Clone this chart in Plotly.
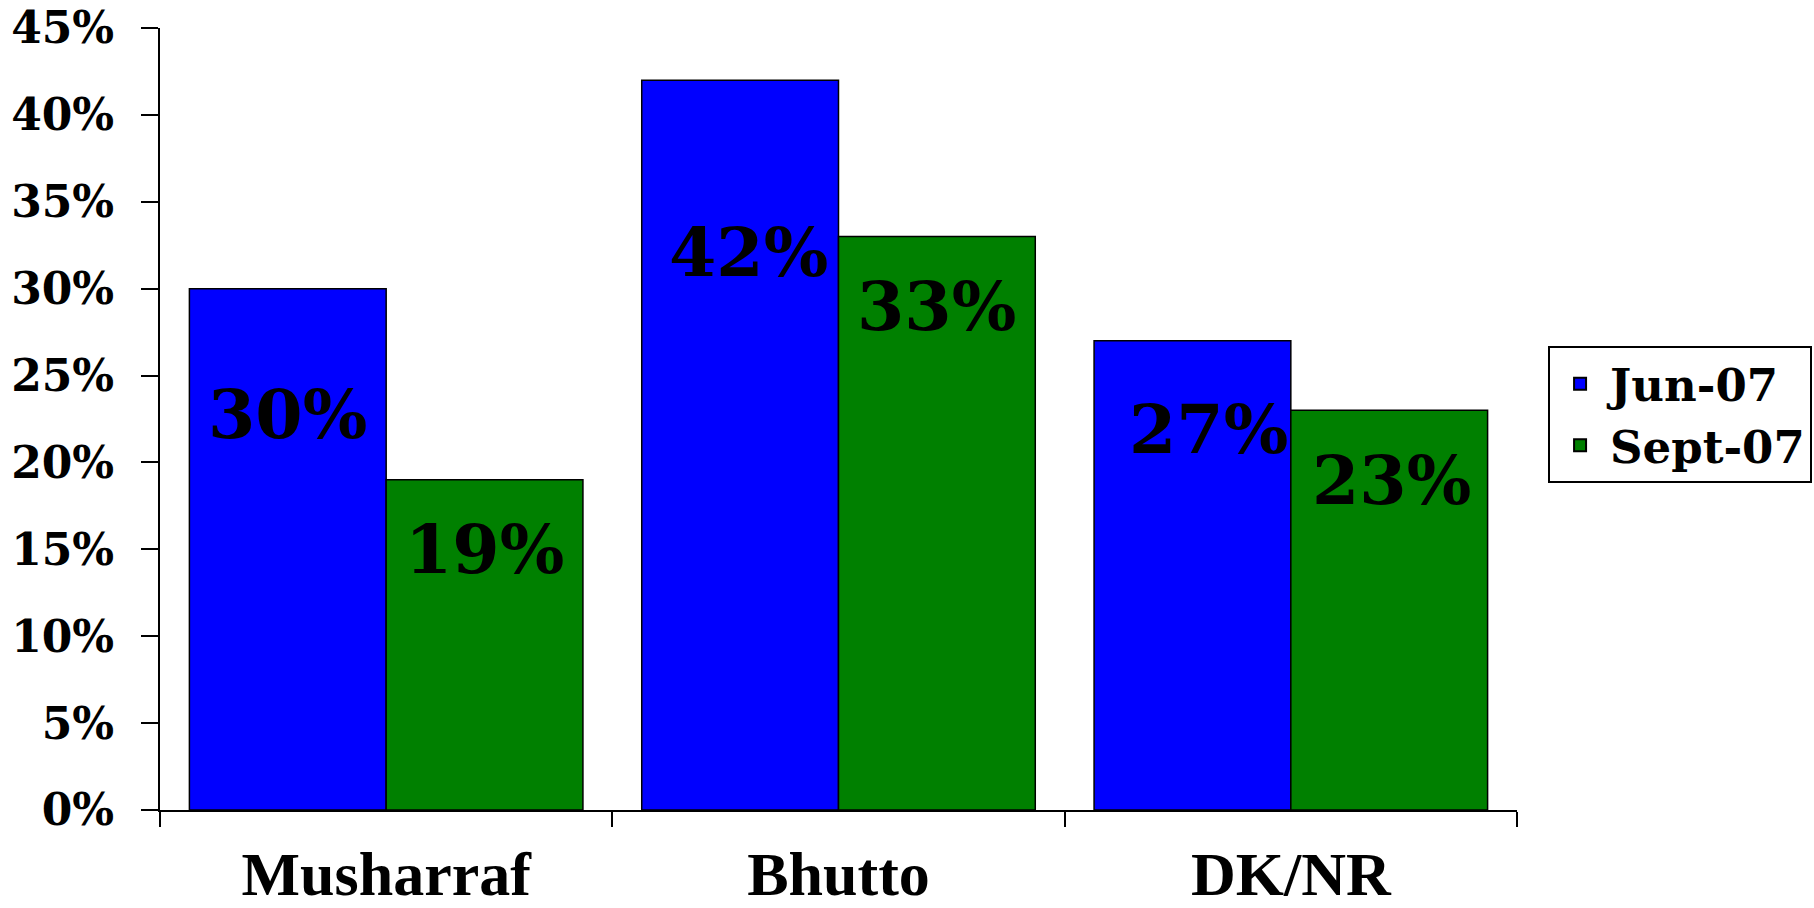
import plotly.graph_objects as go

categories = ["Musharraf", "Bhutto", "DK/NR"]
series_names = ["Jun-07", "Sept-07"]
jun_values = [30, 42, 27]
sept_values = [19, 33, 23]
# vertical position (in % units) of the value labels inside the bars
jun_label_pos = [22.8, 32.1, 21.9]
sept_label_pos = [15.0, 29.0, 19.0]
# small horizontal nudges (px) of the value labels
jun_label_nudge = [0, 8, 16]
sept_label_nudge = [0, 0, 2]
y_ticks = [0, 5, 10, 15, 20, 25, 30, 35, 40, 45]

colors = ["#0000FF", "#008000"]
serif_label = "DejaVu Serif"
serif_cat = "Liberation Serif"

fig = go.Figure()
for name, vals, col in zip(series_names, [jun_values, sept_values], colors):
    fig.add_trace(go.Bar(
        x=categories, y=vals, name=name,
        marker=dict(color=col, line=dict(color="black", width=1.5)),
        hoverinfo="skip",
    ))

bargap = 0.13
half = (1 - bargap) / 4
for i in range(len(categories)):
    for vals, pos, nudge, off in [(jun_values, jun_label_pos, jun_label_nudge, -half),
                                  (sept_values, sept_label_pos, sept_label_nudge, half)]:
        fig.add_annotation(
            x=i + off, y=pos[i], xref="x", yref="y", xshift=nudge[i],
            text=f"{vals[i]}%", showarrow=False,
            font=dict(family=serif_label, size=68, color="black", weight="bold"),
        )

fig.update_layout(
    width=1814, height=908,
    margin=dict(l=160, r=297, t=28, b=98),
    paper_bgcolor="white", plot_bgcolor="white",
    barmode="group", bargap=bargap, bargroupgap=0,
    showlegend=True,
    legend=dict(
        xref="container", yref="container",
        x=0.8534, y=0.619, xanchor="left", yanchor="top",
        bordercolor="black", borderwidth=2, bgcolor="white",
        font=dict(family=serif_label, size=45, color="black", weight="bold"),
        itemsizing="constant", itemwidth=50, tracegroupgap=0,
    ),
    xaxis=dict(
        type="category", tickson="boundaries", automargin=False,
        showline=True, linecolor="black", linewidth=2,
        ticks="outside", ticklen=15, tickwidth=2, tickcolor="black",
        ticklabelstandoff=9, ticklabeloverflow="allow",
        tickfont=dict(family=serif_cat, size=62, color="black", weight="bold"),
        showgrid=False, zeroline=False,
    ),
    yaxis=dict(
        range=[0, 45], tickvals=y_ticks, ticktext=[f"{v}%" for v in y_ticks],
        automargin=False,
        showline=True, linecolor="black", linewidth=2,
        ticks="outside", ticklen=17, tickwidth=2, tickcolor="black",
        ticklabelstandoff=18, ticklabeloverflow="allow",
        tickfont=dict(family=serif_label, size=44, color="black", weight="bold"),
        showgrid=False, zeroline=False,
    ),
)

fig.write_html("out.html", config={"displayModeBar": False},
               post_script="document.body.style.margin='0px';")
